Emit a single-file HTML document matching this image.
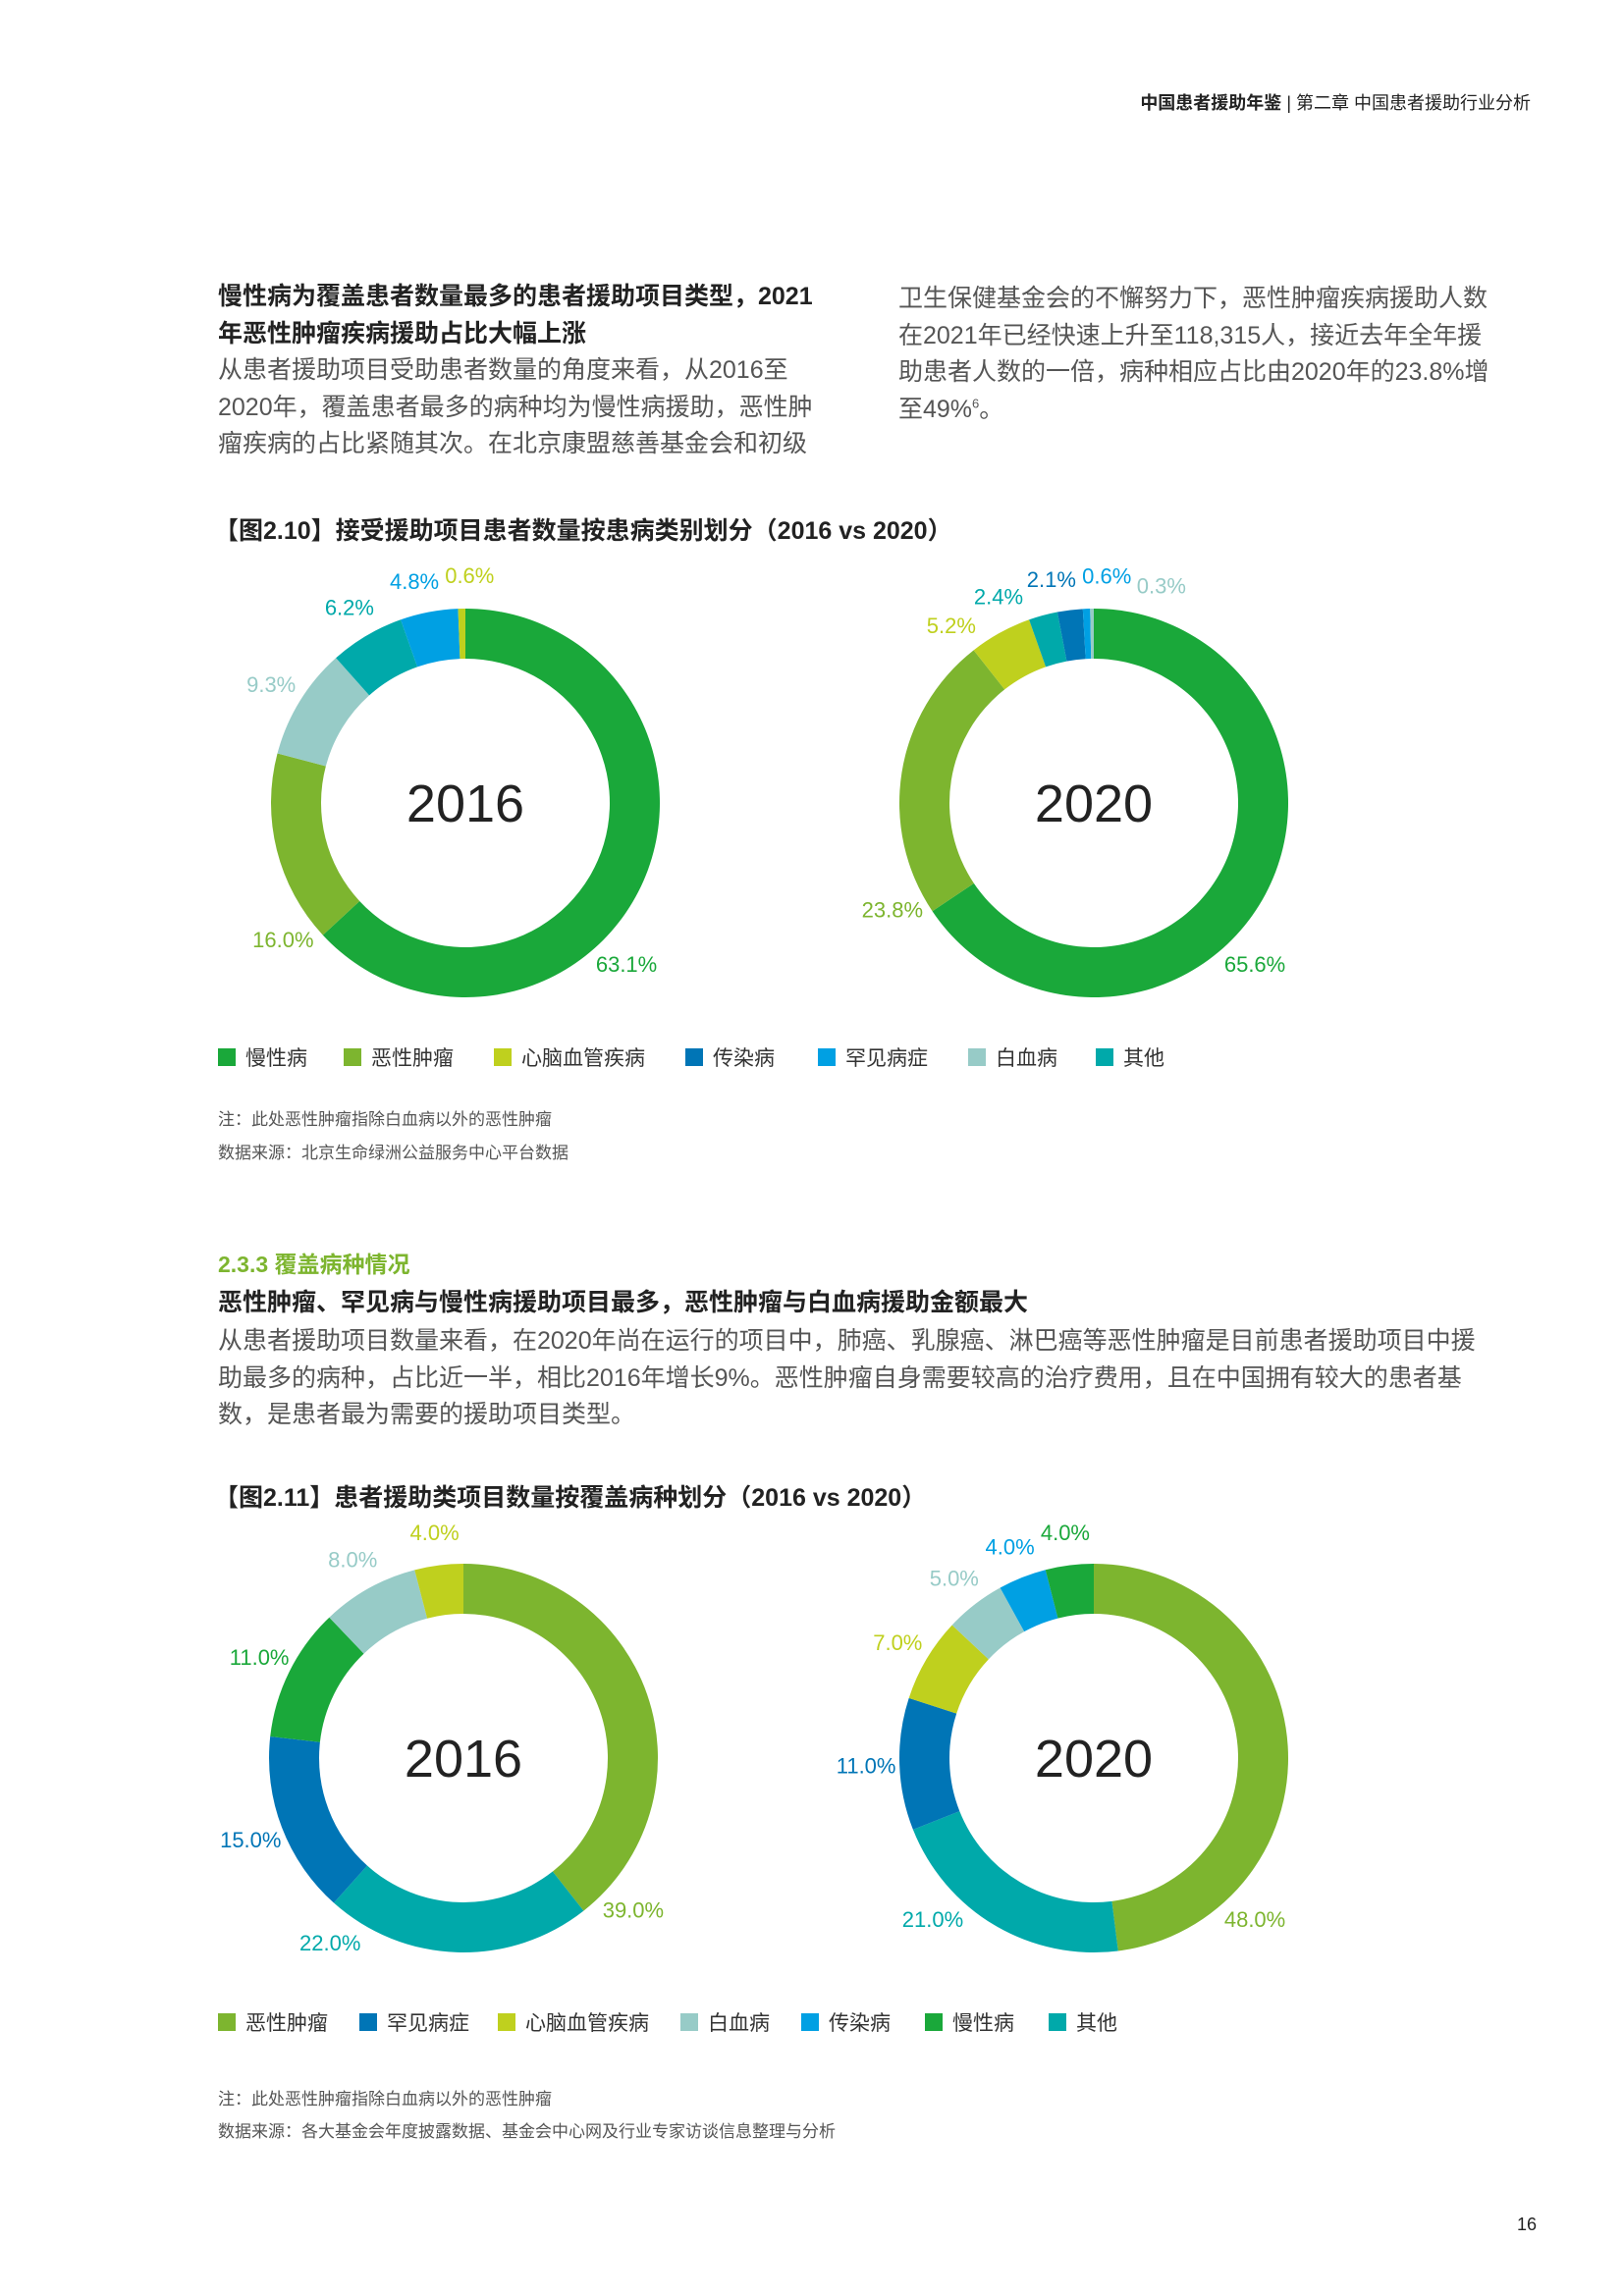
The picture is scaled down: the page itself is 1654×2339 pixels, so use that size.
<!DOCTYPE html>
<html><head><meta charset="utf-8">
<style>
body{margin:0;background:#fff;}
#page{position:relative;width:1654px;height:2339px;overflow:hidden;font-family:"Liberation Sans","Noto Sans CJK SC",sans-serif;color:#333;}
.t{position:absolute;white-space:nowrap;}
.body{font-size:25px;color:#555;line-height:37.5px;}
.h{font-size:25px;font-weight:bold;color:#222;line-height:37.5px;}
.ft{font-size:25px;font-weight:bold;color:#222;}
.note{font-size:17px;color:#555;}
sup{line-height:0;font-size:13px;}
svg{position:absolute;left:0;top:0;}
</style></head>
<body>
<div id="page">
<div class="t" style="right:95px;top:91px;font-size:18px;color:#222"><b>中国患者援助年鉴</b> | 第二章 中国患者援助行业分析</div>

<div class="t h" style="left:222px;top:284px">慢性病为覆盖患者数量最多的患者援助项目类型，2021<br>年恶性肿瘤疾病援助占比大幅上涨</div>
<div class="t body" style="left:222px;top:359px">从患者援助项目受助患者数量的角度来看，从2016至<br>2020年，覆盖患者最多的病种均为慢性病援助，恶性肿<br>瘤疾病的占比紧随其次。在北京康盟慈善基金会和初级</div>
<div class="t body" style="left:915px;top:286px">卫生保健基金会的不懈努力下，恶性肿瘤疾病援助人数<br>在2021年已经快速上升至118,315人，接近去年全年援<br>助患者人数的一倍，病种相应占比由2020年的23.8%增<br>至49%<sup>6</sup>。</div>

<div class="t ft" style="left:218px;top:521px">【图2.10】接受援助项目患者数量按患病类别划分（2016 vs 2020）</div>
<div class="t note" style="left:222px;top:1126px">注：此处恶性肿瘤指除白血病以外的恶性肿瘤</div>
<div class="t note" style="left:222px;top:1160px">数据来源：北京生命绿洲公益服务中心平台数据</div>

<div class="t" style="left:222px;top:1269px;font-size:23px;font-weight:bold;color:#7db52f">2.3.3 覆盖病种情况</div>
<div class="t h" style="left:222px;top:1309px">恶性肿瘤、罕见病与慢性病援助项目最多，恶性肿瘤与白血病援助金额最大</div>
<div class="t body" style="left:222px;top:1348px">从患者援助项目数量来看，在2020年尚在运行的项目中，肺癌、乳腺癌、淋巴癌等恶性肿瘤是目前患者援助项目中援<br>助最多的病种，占比近一半，相比2016年增长9%。恶性肿瘤自身需要较高的治疗费用，且在中国拥有较大的患者基<br>数，是患者最为需要的援助项目类型。</div>

<div class="t ft" style="left:218px;top:1506px">【图2.11】患者援助类项目数量按覆盖病种划分（2016 vs 2020）</div>
<div class="t note" style="left:222px;top:2124px">注：此处恶性肿瘤指除白血病以外的恶性肿瘤</div>
<div class="t note" style="left:222px;top:2157px">数据来源：各大基金会年度披露数据、基金会中心网及行业专家访谈信息整理与分析</div>
<div class="t" style="left:1545px;top:2256px;font-size:18px;color:#222">16</div>

<svg id="charts" width="1654" height="2339"></svg>
</div>
<script>
const colors1 = {"慢性病":"#1aa83a","恶性肿瘤":"#7db52f","心脑血管疾病":"#bfd01e","传染病":"#0075b6","罕见病症":"#00a0e3","白血病":"#97cbc7","其他":"#00a9aa"};
const colors2 = {"慢性病":"#1aa83a","恶性肿瘤":"#7db52f","心脑血管疾病":"#bfd01e","传染病":"#00a0e3","罕见病症":"#0075b6","白血病":"#97cbc7","其他":"#00a9aa"};
const fig1Cats2016 = ["慢性病","恶性肿瘤","白血病","其他","罕见病症","心脑血管疾病"];
const fig1Vals2016 = [63.1,16.0,9.3,6.2,4.8,0.6];
const fig1Cats2020 = ["慢性病","恶性肿瘤","心脑血管疾病","其他","传染病","罕见病症","白血病"];
const fig1Vals2020 = [65.6,23.8,5.2,2.4,2.1,0.6,0.3];
const fig1Legend = ["慢性病","恶性肿瘤","心脑血管疾病","传染病","罕见病症","白血病","其他"];
const fig2Cats2016 = ["恶性肿瘤","其他","罕见病症","慢性病","白血病","心脑血管疾病"];
const fig2Vals2016 = [39.0,22.0,15.0,11.0,8.0,4.0];
const fig2Cats2020 = ["恶性肿瘤","其他","罕见病症","心脑血管疾病","白血病","传染病","慢性病"];
const fig2Vals2020 = [48.0,21.0,11.0,7.0,5.0,4.0,4.0];
const fig2Legend = ["恶性肿瘤","罕见病症","心脑血管疾病","白血病","传染病","慢性病","其他"];

const svg = document.getElementById('charts');
const NS = "http://www.w3.org/2000/svg";
function mk(tag, attrs){const e=document.createElementNS(NS,tag);for(const k in attrs)e.setAttribute(k,attrs[k]);svg.appendChild(e);return e;}
function pt(cx,cy,r,a){return [cx+r*Math.sin(a),cy-r*Math.cos(a)];}
const DEG=Math.PI/180;
function clamp(v,lo,hi){return Math.min(Math.max(v,lo),hi);}
function donut(cx,cy,cats,vals,year,prefix,colors){
  const R=198,r=147,total=vals.reduce((a,b)=>a+b,0);
  let acc=0; const la=[]; const big=[];
  cats.forEach((c,i)=>{
    const a0=acc/total*2*Math.PI; acc+=vals[i]; const a1=acc/total*2*Math.PI;
    const lg=(a1-a0)>Math.PI?1:0;
    const [x0,y0]=pt(cx,cy,R,a0),[x1,y1]=pt(cx,cy,R,a1),[x2,y2]=pt(cx,cy,r,a1),[x3,y3]=pt(cx,cy,r,a0);
    const p=mk('path',{d:`M${x0},${y0}A${R},${R} 0 ${lg} 1 ${x1},${y1}L${x2},${y2}A${r},${r} 0 ${lg} 0 ${x3},${y3}Z`,fill:colors[c]});
    
    
    let am=(a0+a1)/2;
    const share=vals[i]/total;
    if(share>0.35){am=clamp(135*DEG,a0+10*DEG,a1-10*DEG);big[i]=true;}
    else if(share>0.155){am=clamp(225*DEG,a0+6*DEG,a1-6*DEG);big[i]=true;}
    la.push(am);
  });
  const minGap=14*DEG;
  for(let it=0;it<100;it++){
    for(let i=0;i<la.length-1;i++){
      if(big[i]||big[i+1])continue;
      const g=la[i+1]-la[i];
      if(g<minGap){const d=(minGap-g)/2;la[i]-=d;la[i+1]+=d;}
    }
  }
  cats.forEach((c,i)=>{
    const [lx,ly]=pt(cx,cy,232,la[i]);
    const t=mk('text',{x:lx,y:ly+8,'font-size':22,fill:colors[c],'text-anchor':'middle','font-family':'"Liberation Sans",sans-serif'});
    t.textContent=vals[i].toFixed(1)+'%';
    
    
  });
  const yt=mk('text',{x:cx,y:cy+19,'font-size':54,fill:'#222','text-anchor':'middle','font-family':'"Liberation Sans",sans-serif'});
  yt.textContent=year;
  
  
}
function legend(items,xs,y,prefix,colors){
  items.forEach((c,i)=>{
    const sq=mk('rect',{x:xs[i],y:y-9,width:18,height:18,fill:colors[c]});
    
    
    const t=mk('text',{x:xs[i]+28,y:y+8,'font-size':21,fill:'#333','font-family':'"Liberation Sans","Noto Sans CJK SC",sans-serif'});
    t.textContent=c;
    
    
  });
}
donut(474,818,fig1Cats2016,fig1Vals2016,'2016','fig1-2016',colors1);
donut(1114,818,fig1Cats2020,fig1Vals2020,'2020','fig1-2020',colors1);
legend(fig1Legend,[222,350,503,698,833,986,1116],1077,'fig1',colors1);
donut(472,1791,fig2Cats2016,fig2Vals2016,'2016','fig2-2016',colors2);
donut(1114,1791,fig2Cats2020,fig2Vals2020,'2020','fig2-2020',colors2);
legend(fig2Legend,[222,366,507,693,816,942,1068],2060,'fig2',colors2);
</script>
</body></html>
